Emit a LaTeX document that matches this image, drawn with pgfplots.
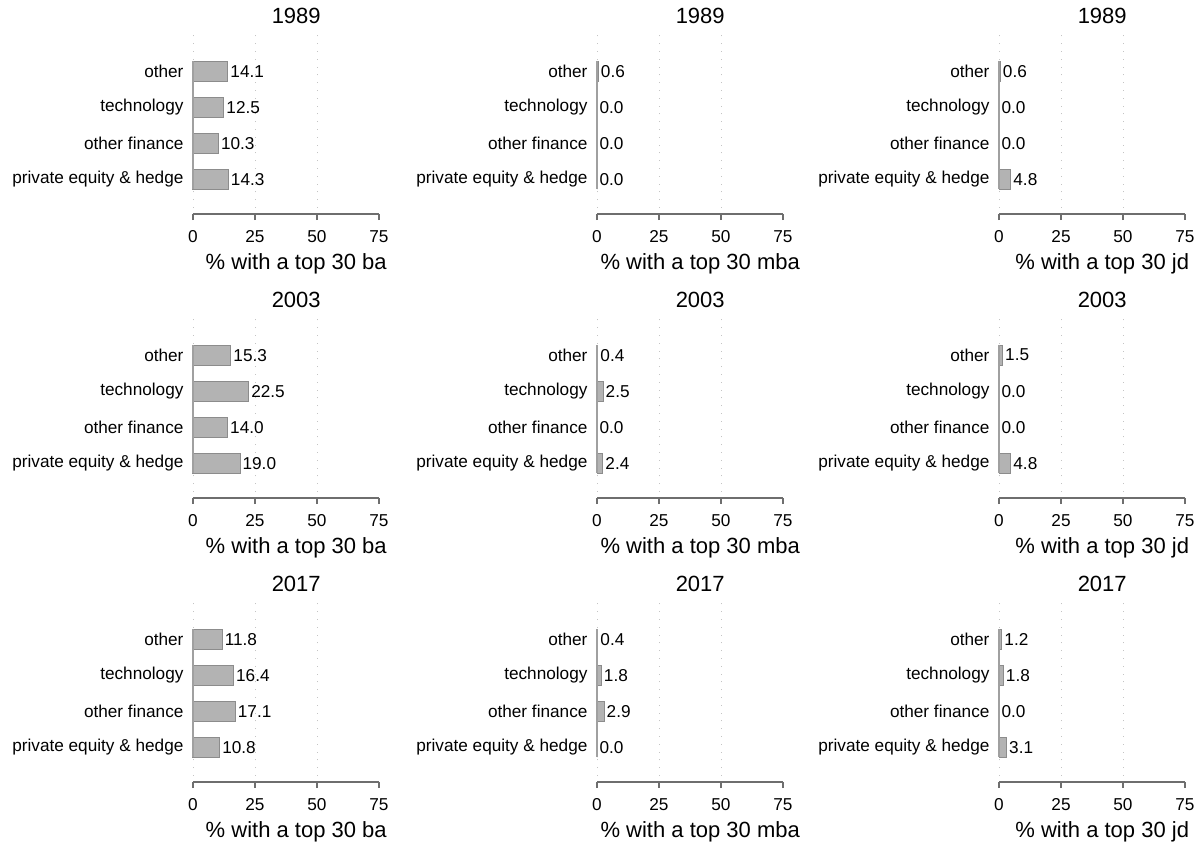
\documentclass[border=0pt]{standalone}
\usepackage{pgfplots}
\pgfplotsset{compat=1.18}
\usepackage{fontspec}
\setmainfont{Liberation Sans}
\definecolor{barfill}{HTML}{B3B3B3}
\definecolor{baredge}{HTML}{8C8C8C}
\definecolor{axisgray}{HTML}{6E6E6E}
\definecolor{gridgray}{HTML}{C4C4C4}
\definecolor{basegray}{HTML}{A0A0A0}
\newcommand{\lab}{\fontsize{17.2}{19}\selectfont}
\newcommand{\bigf}{\fontsize{22}{25}\selectfont}
% #1 x0, #2 axis line y (px from top), #3 title, #4 xlabel, #5 pe, #6 of, #7 tech, #8 other
\newcommand{\panel}[8]{%
\begin{axis}[
  at={(#1pt,-#2pt)}, anchor=south west,
  scale only axis, width=186pt, height=181pt,
  xmin=0, xmax=75, ymin=-0.97, ymax=4.06,
  /pgf/number format/assume math mode=true,
  axis x line*=bottom, axis y line*=left,
  x axis line style={-, draw=axisgray, line width=1.2pt},
  y axis line style={draw=none},
  xtick={0,25,50,75}, ytick={0,1,2,3},
  yticklabels={private equity \& hedge, other finance, technology, other},
  xtick style={draw=axisgray, line width=1.2pt},
  ytick style={draw=none},
  major tick length=6pt, tick align=outside,
  xticklabel style={font=\lab, anchor=base, yshift=-22pt},
  yticklabel style={font=\lab, anchor=east, xshift=0pt},
  title={#3}, title style={font=\bigf, at={(axis description cs:0.555,1)}, anchor=center, yshift=11pt},
  xlabel={#4}, xlabel style={font=\bigf, at={(axis description cs:0.555,0)}, anchor=center, yshift=-50pt},
  clip=false,
]
\foreach \gx in {0,25,50} {
  \edef\temp{\noexpand\draw[gridgray, line width=0.8pt, dash pattern=on 0.8pt off 7pt] (axis cs:\gx,-0.8) -- (axis cs:\gx,4.06);}
  \temp
}
\addplot[xbar, bar width=20pt, fill=barfill, draw=baredge, line width=1pt,
  nodes near coords={\pgfmathprintnumber[fixed,fixed zerofill,precision=1]{\pgfplotspointmeta}},
  nodes near coords style={font=\lab, anchor=west, inner sep=2pt}]
  coordinates {(#5,0) (#6,1) (#7,2) (#8,3)};
\draw[basegray, line width=1.5pt] (axis cs:0,-0.28) -- (axis cs:0,3.28);
\end{axis}}
\begin{document}
\begin{tikzpicture}
\panel{193}{214}{1989}{\% with a top 30 ba}{14.3}{10.3}{12.5}{14.1}
\panel{597}{214}{1989}{\% with a top 30 mba}{0.0}{0.0}{0.0}{0.6}
\panel{999}{214}{1989}{\% with a top 30 jd}{4.8}{0.0}{0.0}{0.6}
\panel{193}{498}{2003}{\% with a top 30 ba}{19.0}{14.0}{22.5}{15.3}
\panel{597}{498}{2003}{\% with a top 30 mba}{2.4}{0.0}{2.5}{0.4}
\panel{999}{498}{2003}{\% with a top 30 jd}{4.8}{0.0}{0.0}{1.5}
\panel{193}{782}{2017}{\% with a top 30 ba}{10.8}{17.1}{16.4}{11.8}
\panel{597}{782}{2017}{\% with a top 30 mba}{0.0}{2.9}{1.8}{0.4}
\panel{999}{782}{2017}{\% with a top 30 jd}{3.1}{0.0}{1.8}{1.2}
\pgfresetboundingbox
\path[use as bounding box] (0pt,0pt) rectangle (1203pt,-845pt);
\end{tikzpicture}
\end{document}
